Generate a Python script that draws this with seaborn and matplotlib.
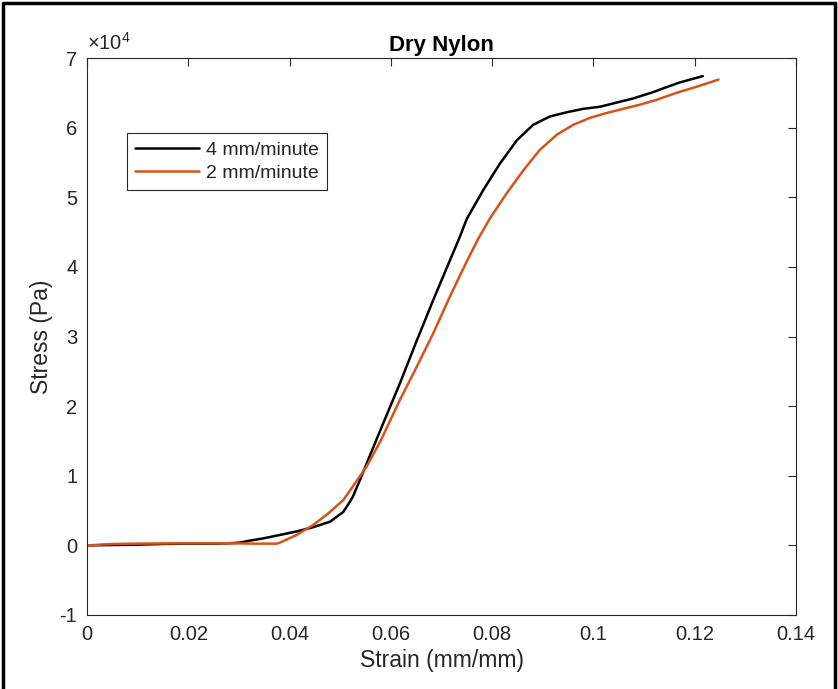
import numpy as np
import pandas as pd
import matplotlib
matplotlib.use("Agg")
from matplotlib import pyplot as plt
from matplotlib.lines import Line2D
import seaborn as sns

# strain (mm/mm) / stress (Pa)
strain_4 = [0, 0.005, 0.01, 0.015, 0.02, 0.025, 0.028, 0.0302, 0.0315, 0.0348, 0.0381,
            0.0414, 0.0446, 0.048, 0.0506, 0.0516, 0.0525, 0.0539, 0.0575, 0.0618,
            0.065, 0.0684, 0.0717, 0.0735, 0.075, 0.0783, 0.0816, 0.0849, 0.0881,
            0.0914, 0.0947, 0.098, 0.1013, 0.1046, 0.1079, 0.1118, 0.114, 0.1171,
            0.1216]
stress_4 = [0, 50, 100, 200, 250, 250, 300, 400, 600, 1000, 1500,
            2000, 2600, 3400, 4800, 5900, 7000, 9400, 15800, 23300,
            29200, 35300, 41000, 44100, 46900, 51100, 54900, 58200, 60400,
            61600, 62200, 62700, 63000, 63600, 64200, 65100, 65700, 66500,
            67400]

strain_2 = [0, 0.005, 0.01, 0.02, 0.028, 0.033, 0.0375, 0.0381, 0.0414, 0.0446,
            0.0475, 0.0506, 0.0552, 0.0579, 0.0618, 0.065, 0.0684, 0.0717, 0.075,
            0.0773, 0.0796, 0.0829, 0.0862, 0.0894, 0.0928, 0.096, 0.0993, 0.1026,
            0.1059, 0.1092, 0.1125, 0.1164, 0.1205, 0.1247]
stress_2 = [0, 200, 250, 300, 300, 250, 250, 400, 1500, 2900,
            4500, 6500, 11300, 14900, 20900, 25500, 30500, 35800, 40800,
            44100, 47000, 50600, 53900, 56800, 59000, 60400, 61400, 62100,
            62700, 63300, 64000, 65000, 65900, 66900]

labels = ["4 mm/minute", "2 mm/minute"]
colors = ["#000000", "#D95319"]

x_ticks = [0, 0.02, 0.04, 0.06, 0.08, 0.1, 0.12, 0.14]
x_tick_labels = ["0", "0.02", "0.04", "0.06", "0.08", "0.1", "0.12", "0.14"]
y_ticks = [-1e4, 0, 1e4, 2e4, 3e4, 4e4, 5e4, 6e4, 7e4]
y_tick_labels = ["-1", "0", "1", "2", "3", "4", "5", "6", "7"]

df = pd.concat([
    pd.DataFrame({"strain": strain_4, "stress": stress_4, "rate": labels[0]}),
    pd.DataFrame({"strain": strain_2, "stress": stress_2, "rate": labels[1]}),
])

sns.set_theme(style="white")
plt.rcParams["font.family"] = ["Liberation Sans", "DejaVu Sans"]
plt.rcParams["mathtext.fontset"] = "custom"
plt.rcParams["mathtext.rm"] = "Liberation Sans"
plt.rcParams["axes.unicode_minus"] = False

fig = plt.figure(figsize=(8.38, 6.89), dpi=100)
ax = fig.add_axes([87 / 838, 1 - 615 / 689, 709 / 838, 557 / 689])

sns.lineplot(data=df, x="strain", y="stress", hue="rate", palette=colors,
             sort=False, estimator=None, linewidth=1.8, ax=ax)

ax.set_xlim(0, 0.14)
ax.set_ylim(-1e4, 7e4)
ax.set_xticks(x_ticks)
ax.set_yticks(y_ticks)
ax.set_xticklabels(x_tick_labels)
ax.set_yticklabels(y_tick_labels)
# exponent label like matlab puts it
ax.text(0.0, 1.008, r"$\times\mathregular{10^{4}}$", transform=ax.transAxes,
        fontsize=14.5, color="#262626", ha="left", va="bottom")

ax.tick_params(direction="in", length=6, width=0.8, top=True, right=True,
               labelsize=14.5, colors="#262626", labelcolor="#262626", pad=7)
for s in ax.spines.values():
    s.set_color("#262626")
    s.set_linewidth(0.8)

ax.set_xlabel("Strain (mm/mm)", fontsize=16.5, color="#262626", labelpad=4)
ax.set_ylabel("Stress (Pa)", fontsize=16.5, color="#262626", labelpad=5)
ax.set_title("Dry Nylon", fontsize=16, fontweight="bold", color="black", pad=5)

handles = [Line2D([], [], color=c, linewidth=1.8) for c in colors]
leg = ax.legend(handles, labels, loc="upper left", bbox_to_anchor=(0.0568, 0.8648),
                borderaxespad=0, fancybox=False, framealpha=1, edgecolor="#262626",
                fontsize=14, handlelength=3.3, handletextpad=0.35,
                labelspacing=0.3, borderpad=0.4)
leg.get_frame().set_linewidth(0.8)

# black frame round the figure
for xs, ys in [([0.004, 0.004], [0, 0.996]), ([0.004, 0.997], [0.996, 0.996]),
               ([0.997, 0.997], [0, 0.996])]:
    fig.add_artist(Line2D(xs, ys, color="black", linewidth=2.5, transform=fig.transFigure))

fig.savefig("out.png", dpi=100, facecolor="white")
